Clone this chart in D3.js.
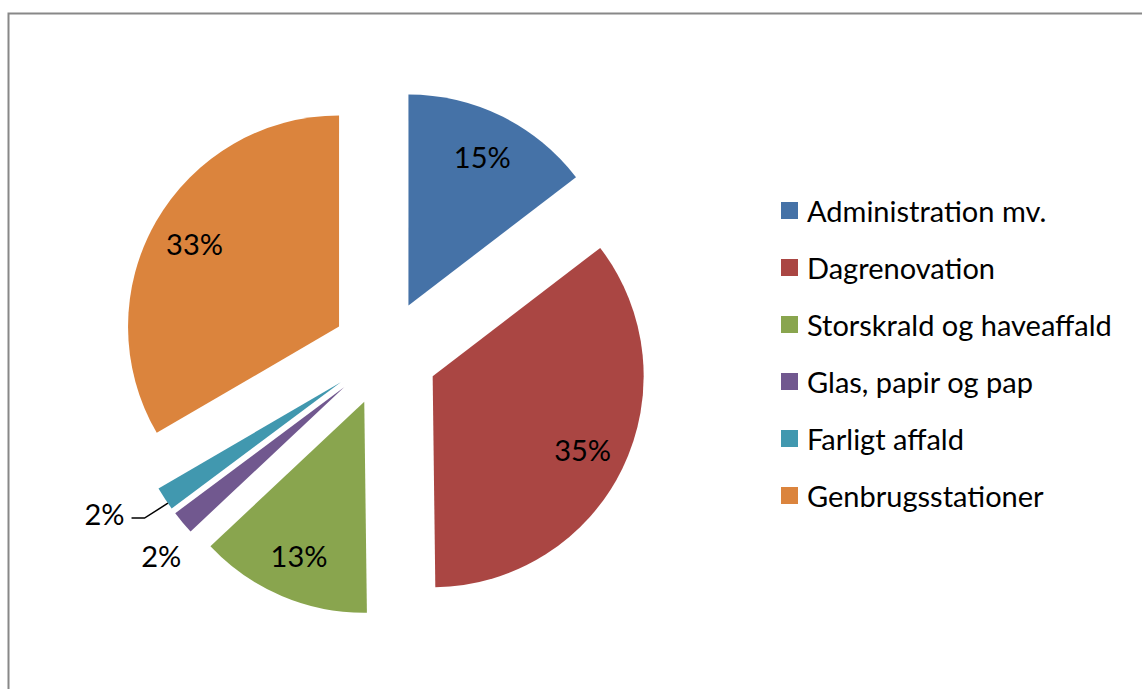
<!DOCTYPE html>
<html>
<head>
<meta charset="utf-8">
<script src="https://cdn.jsdelivr.net/npm/d3@7"></script>
<style>
  html, body { margin: 0; padding: 0; background: #fff; }
  svg { display: block; }
  text { font-family: Lato, "Open Sans", sans-serif; fill: #000; }
</style>
</head>
<body>
<svg id="chart" width="1142" height="689"></svg>
<script>
// ---- data ----
const categories = ["Administration mv.", "Dagrenovation", "Storskrald og haveaffald", "Glas, papir og pap", "Farligt affald", "Genbrugsstationer"];
const values = [14.6, 35.2, 13.2, 1.8, 1.8, 33.4];
const labels = ["15%", "35%", "13%", "2%", "2%", "33%"];
const colors = ["#4572A7", "#AA4643", "#89A54E", "#71588F", "#4198AF", "#DB843D"];

// ---- layout ----
const W = 1142, H = 689;
const cx = 385, cy = 353, R = 211, explode = 53;
const fontSize = 29;
const deg = Math.PI / 180;

const svg = d3.select("#chart");

// chart area border
svg.append("rect")
  .attr("x", 8.5).attr("y", 13.5)
  .attr("width", W + 20).attr("height", H + 20)
  .attr("fill", "none").attr("stroke", "#888").attr("stroke-width", 2);

const pie = d3.pie().sort(null).value(d => d)(values);
const arc = d3.arc().innerRadius(0).outerRadius(R);

const pol = (a, r) => [Math.sin(a) * r, -Math.cos(a) * r];

const g = svg.append("g").attr("transform", `translate(${cx},${cy})`);

const slices = g.selectAll("g.slice").data(pie).join("g")
  .attr("class", "slice")
  .attr("transform", d => {
    const [x, y] = pol((d.startAngle + d.endAngle) / 2, explode);
    return `translate(${x},${y})`;
  });

slices.append("path")
  .attr("d", arc)
  .attr("fill", (d, i) => colors[i]);

// label placement (inside for big slices, outside for small)
const labelSpec = d => {
  const frac = (d.endAngle - d.startAngle) / (2 * Math.PI);
  if (frac >= 0.05) return { k: 0.79, da: 0 };
  return d.index === 3 ? { k: 1.18, da: -2.7 * deg } : { k: 1.28, da: 4.5 * deg };
};

slices.append("text")
  .attr("text-anchor", "middle")
  .attr("dominant-baseline", "central")
  .style("font-size", fontSize + "px")
  .attr("x", d => { const s = labelSpec(d); return pol((d.startAngle + d.endAngle) / 2 + s.da, R * s.k)[0]; })
  .attr("y", d => { const s = labelSpec(d); return pol((d.startAngle + d.endAngle) / 2 + s.da, R * s.k)[1]; })
  .text((d, i) => labels[i]);

// leader line for the Farligt affald label
slices.filter(d => d.index === 4).each(function(d) {
  const s = labelSpec(d);
  const mid = (d.startAngle + d.endAngle) / 2;
  const [lx, ly] = pol(mid + s.da, R * s.k);
  const [ex, ey] = pol(mid - 1.5 * deg, R);
  const sx = lx + 27, kx = lx + 40, sy = ly + 5;
  d3.select(this).append("path")
    .attr("d", `M${sx},${sy}L${kx},${sy}L${ex},${ey}`)
    .attr("fill", "none").attr("stroke", "#000").attr("stroke-width", 1.5);
});

// legend
const legend = svg.append("g").attr("transform", "translate(781,202)");
const rows = legend.selectAll("g").data(categories).join("g")
  .attr("transform", (d, i) => `translate(0,${i * 57})`);
rows.append("rect").attr("width", 17).attr("height", 17).attr("fill", (d, i) => colors[i]);
rows.append("text").attr("x", 26).attr("y", 20).style("font-size", fontSize + "px").text(d => d);
</script>
</body>
</html>
